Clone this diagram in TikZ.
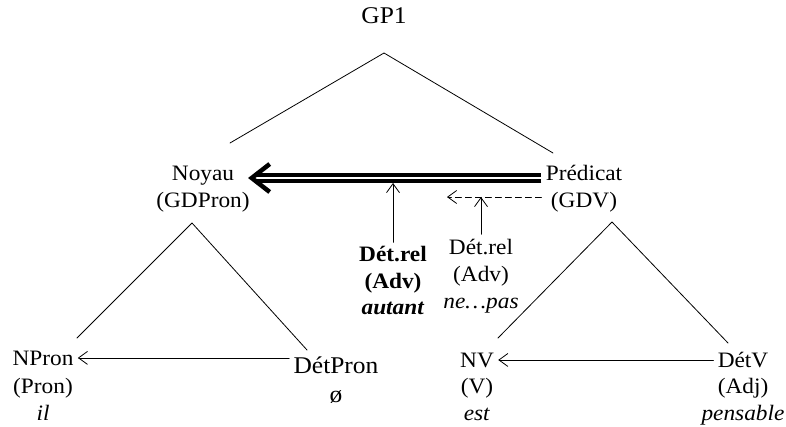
\documentclass[tikz,border=0pt]{standalone}
\usepackage{fontspec}
\setmainfont{Liberation Serif}[FakeStretch=1.06]
\usetikzlibrary{arrows.meta}
\begin{document}
\begin{tikzpicture}[x=1pt,y=-1pt,line join=round,line cap=round,line width=0.8pt]
	\tikzset{lbl/.style={font=\fontsize{22}{27}\selectfont,inner sep=4pt,anchor=base,align=center},
		big/.style={lbl,font=\fontsize{24}{29}\selectfont},
		arr/.style={-{Straight Barb[length=9pt,width=13pt]}},
		dblarr/.style={double,double distance=2.5pt,line width=3.5pt,line cap=butt,-{Straight Barb[length=18pt,width=28pt,line width=4.5pt]}}}
	\useasboundingbox (0,0) rectangle (786,427);
	\node[big] (gp) at (384,24) {GP1};
	\node[lbl] (noyau) at (203,208) {Noyau\\(GDPron)};
	\node[lbl] (pred) at (584,208) {Prédicat\\(GDV)};
	\node[lbl,font=\fontsize{22}{26}\selectfont\bfseries] (rel1) at (393,314) {Dét.rel\\(Adv)\\\textit{autant}};
	\node[lbl] (rel2) at (481,308) {Dét.rel\\(Adv)\\\textit{ne…pas}};
	\node[lbl] (npron) at (43,365) {NPron};
	\node[lbl] (npron sub) at (43,420) {(Pron)\\\textit{il}};
	\node[big] (detpron) at (336,373) {DétPron};
	\node[big] (detpron sub) at (336,402) {ø};
	\node[lbl] (nv) at (477,367) {NV};
	\node[lbl] (nv sub) at (477,420) {(V)\\\textit{est}};
	\node[lbl] (detv) at (743,367) {DétV};
	\node[lbl] (detv sub) at (743,420) {(Adj)\\\textit{pensable}};
	\coordinate (gp apex) at (384,53);
	\coordinate (gp left) at (230,143);
	\coordinate (gp right) at (553,153);
	\coordinate (noyau apex) at (192,223);
	\coordinate (noyau left) at (77,338);
	\coordinate (noyau right) at (307,350);
	\coordinate (pred apex) at (612,222);
	\coordinate (pred left) at (498,338);
	\coordinate (pred right) at (728,343);
	\coordinate (dbl) at (0,178);
	\coordinate (dbl low) at (0,183);
	\coordinate (dash) at (0,197);
	\coordinate (dash tip) at (447,197);
	\draw (gp left) -- (gp apex) -- (gp right);
	\draw (noyau left) -- (noyau apex) -- (noyau right);
	\draw (pred left) -- (pred apex) -- (pred right);
	\draw[dblarr] (pred.west |- dbl) -- ([xshift=-6pt]noyau.east |- dbl);
	\draw[arr,dash pattern=on 6pt off 4pt] (pred.west |- dash) -- (dash tip);
	\draw[arr] (rel1.north) -- (rel1.north |- dbl low);
	\draw[arr] (rel2.north) -- (rel2.north |- dash);
	\draw[arr] (detpron.west |- npron.east) -- (npron.east);
	\draw[arr] (detv.west |- nv.east) -- (nv.east);
\end{tikzpicture}
\end{document}
